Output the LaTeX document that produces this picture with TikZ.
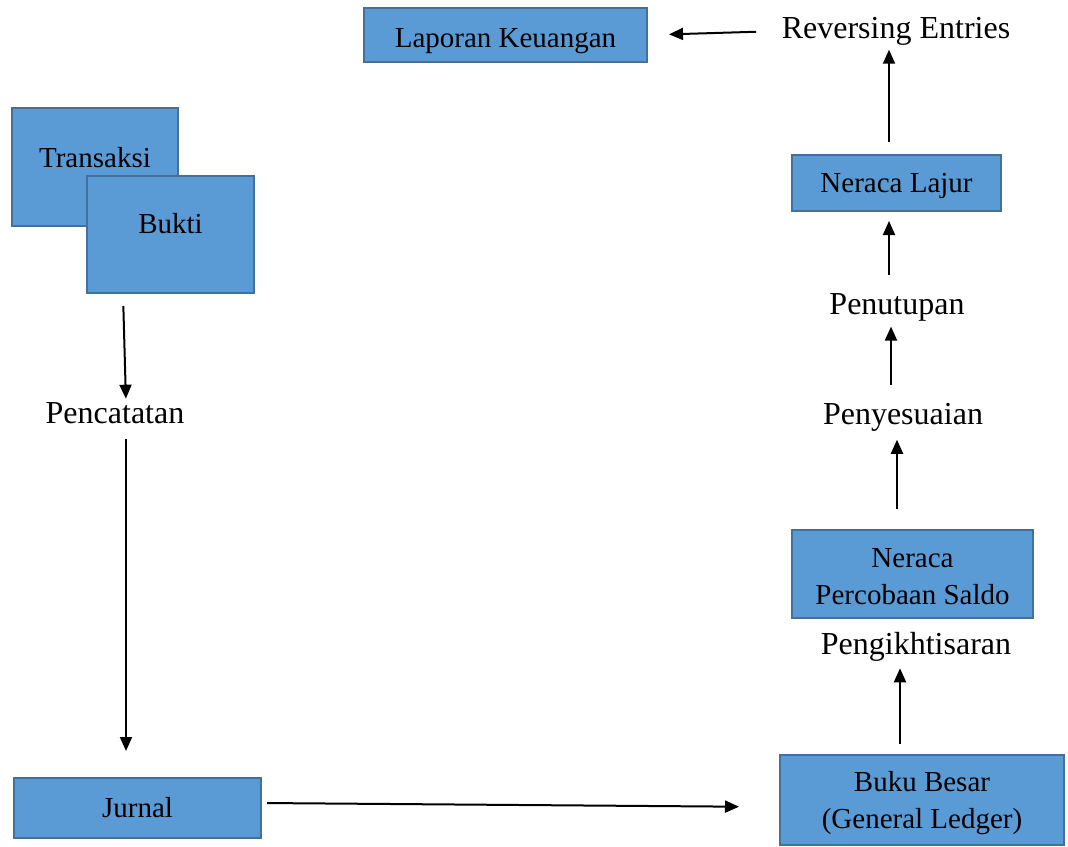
\documentclass[tikz,border=0pt]{standalone}
\usepackage{fontspec}
\setmainfont{Liberation Serif}
\usetikzlibrary{arrows.meta}
\definecolor{boxfill}{RGB}{91,155,213}
\definecolor{boxline}{RGB}{65,113,156}
\begin{document}
\begin{tikzpicture}[x=1pt,y=-1pt,
  box/.style={draw=boxline, fill=boxfill, line width=2pt, inner sep=0pt,
    align=center, font=\fontsize{29}{37}\selectfont},
  lbl/.style={inner sep=0pt, font=\fontsize{32}{38}\selectfont},
  arr/.style={line width=2pt, -{Triangle[length=14pt,width=12pt]}}]
\useasboundingbox (0,0) rectangle (1068,846);

% boxes
\node[box, minimum width=283pt, minimum height=54pt, text height=32pt] (lap) at (505.5,35) {Laporan Keuangan};
\node[box, minimum width=166pt, minimum height=118pt, text depth=20pt] (trans) at (95,167) {Transaksi};
\node[box, minimum width=167pt, minimum height=117pt, text depth=23pt] (bukti) at (170.5,234.5) {Bukti};
\node[box, minimum width=247pt, minimum height=60pt] (jurnal) at (137.5,808) {Jurnal};
\node[box, minimum width=284pt, minimum height=90pt, text height=63pt] (buku) at (922,800) {Buku Besar\\(General Ledger)};
\node[box, minimum width=241pt, minimum height=88pt, text height=62pt] (neraca) at (912.5,574) {Neraca\\Percobaan Saldo};
\node[box, minimum width=209pt, minimum height=56pt, text height=26pt] (lajur) at (896.5,183) {Neraca Lajur};

% plain labels
\node[lbl] (rev) at (896,31) {Reversing Entries};
\node[lbl] (tutup) at (897,307) {Penutupan};
\node[lbl] (sesuai) at (903,417) {Penyesuaian};
\node[lbl] (catat) at (115,413) {Pencatatan};
\node[lbl] (ikhtisar) at (916,647) {Pengikhtisaran};

% connectors
\draw[arr, shorten <=25.5pt, shorten >=21pt] (rev.west) -- (lap.east);
\draw[arr, shorten <=12pt, shorten >=4.5pt] ([xshift=-7.5pt]lajur.north) -- ([xshift=-7pt]rev.south);
\draw[arr, shorten <=17.5pt, shorten >=9pt] ([xshift=-8pt]tutup.north) -- ([xshift=-7.5pt]lajur.south);
\draw[arr, shorten <=17.5pt, shorten >=5.5pt] ([xshift=-12pt]sesuai.north) -- ([xshift=-6pt]tutup.south);
\draw[arr, shorten <=20pt, shorten >=8.5pt] ([xshift=-15.5pt]neraca.north) -- ([xshift=-6pt]sesuai.south);
\draw[arr, shorten <=10pt, shorten >=6.5pt] ([xshift=-22pt]buku.north) -- ([xshift=-16pt]ikhtisar.south);
\draw[arr, shorten <=5pt, shorten >=40pt] ([yshift=5pt]jurnal.east) -- ([yshift=-7pt]buku.west);
\draw[arr, shorten <=12pt, shorten >=3.5pt] ([xshift=-47.5pt]bukti.south) -- ([xshift=11pt]catat.north);
\draw[arr, shorten <=15.5pt, shorten >=26pt] ([xshift=11pt]catat.south) -- ([xshift=-11.5pt]jurnal.north);
\end{tikzpicture}
\end{document}
